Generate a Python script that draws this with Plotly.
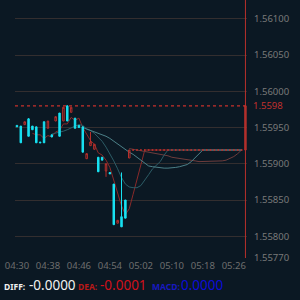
import pandas as pd
import plotly.graph_objects as go

# ---------------- data ----------------
start_time = "2024-01-01 04:30"
n_bars = 60

opens = [1.55953, 1.55952, 1.55954, 1.55962, 1.55952, 1.55951, 1.55930, 1.55958, 1.55949, 1.55940,
         1.55959, 1.55970, 1.55959, 1.55980, 1.55971, 1.55963, 1.55953, 1.55951, 1.55907, 1.55925,
         1.55920, 1.55909, 1.55909, 1.55890, 1.55888, 1.55872, 1.55818, 1.55827, 1.55850, 1.55908,
         1.55919, 1.55919, 1.55919, 1.55919, 1.55919, 1.55919, 1.55919, 1.55919, 1.55919, 1.55919,
         1.55919, 1.55919, 1.55919, 1.55919, 1.55919, 1.55919, 1.55919, 1.55919, 1.55919, 1.55919,
         1.55919, 1.55919, 1.55919, 1.55919, 1.55919, 1.55919, 1.55919, 1.55919, 1.55919, 1.55919]
closes = [1.55951, 1.55929, 1.55958, 1.55938, 1.55947, 1.55929, 1.55929, 1.55929, 1.55959, 1.55937,
          1.55965, 1.55938, 1.55978, 1.55959, 1.55978, 1.55949, 1.55950, 1.55916, 1.55914, 1.55930,
          1.55927, 1.55889, 1.55905, 1.55900, 1.55886, 1.55816, 1.55822, 1.55813, 1.55825, 1.55919,
          1.55919, 1.55919, 1.55919, 1.55919, 1.55919, 1.55919, 1.55919, 1.55919, 1.55919, 1.55919,
          1.55919, 1.55919, 1.55919, 1.55919, 1.55919, 1.55919, 1.55919, 1.55919, 1.55919, 1.55919,
          1.55919, 1.55919, 1.55919, 1.55919, 1.55919, 1.55919, 1.55919, 1.55919, 1.55919, 1.55980]
highs = [1.55953, 1.55952, 1.55958, 1.55963, 1.55952, 1.55951, 1.55930, 1.55958, 1.55959, 1.55940,
         1.55965, 1.55970, 1.55978, 1.55980, 1.55978, 1.55963, 1.55953, 1.55951, 1.55914, 1.55944,
         1.55927, 1.55909, 1.55909, 1.55900, 1.55888, 1.55872, 1.55822, 1.55888, 1.55850, 1.55919,
         1.55919, 1.55919, 1.55919, 1.55919, 1.55919, 1.55919, 1.55919, 1.55919, 1.55919, 1.55919,
         1.55919, 1.55919, 1.55919, 1.55919, 1.55919, 1.55919, 1.55919, 1.55919, 1.55919, 1.55919,
         1.55919, 1.55919, 1.55919, 1.55919, 1.55919, 1.55919, 1.55919, 1.55919, 1.55919, 1.55980]
lows = [1.55951, 1.55929, 1.55954, 1.55938, 1.55947, 1.55929, 1.55929, 1.55929, 1.55949, 1.55937,
        1.55959, 1.55938, 1.55959, 1.55959, 1.55971, 1.55949, 1.55950, 1.55916, 1.55907, 1.55925,
        1.55920, 1.55889, 1.55905, 1.55882, 1.55886, 1.55816, 1.55818, 1.55813, 1.55825, 1.55908,
        1.55919, 1.55919, 1.55919, 1.55919, 1.55919, 1.55919, 1.55919, 1.55919, 1.55919, 1.55919,
        1.55919, 1.55919, 1.55919, 1.55919, 1.55919, 1.55919, 1.55919, 1.55919, 1.55919, 1.55919,
        1.55919, 1.55919, 1.55919, 1.55919, 1.55919, 1.55919, 1.55919, 1.55919, 1.55919, 1.55919]

N = None
ma5 = [N, N, N, N, 1.55942, 1.55940, 1.55940, 1.55935, 1.55939, 1.55937,
       1.55944, 1.55946, 1.55955, 1.55955, 1.55964, 1.55960, 1.55963, 1.55950, 1.55941, 1.55932,
       1.55927, 1.55915, 1.55912, 1.55905, 1.55895, 1.55878, 1.55862, 1.55842, 1.55830, 1.55838,
       1.55858, 1.55878, 1.55899, 1.55919, 1.55919, 1.55919, 1.55919, 1.55919, 1.55919, 1.55919,
       1.55919, 1.55919, 1.55919, 1.55919, 1.55919, 1.55919, 1.55919, 1.55919, 1.55919, 1.55919,
       1.55919, 1.55919, 1.55919, 1.55919, 1.55919, 1.55919, 1.55919, 1.55919, 1.55919, N]
ma10 = [N, N, N, N, N, N, N, N, N, 1.55941,
        1.55942, 1.55943, 1.55945, 1.55947, 1.55950, 1.55952, 1.55954, 1.55953, 1.55948, 1.55946,
        1.55942, 1.55937, 1.55931, 1.55923, 1.55914, 1.55904, 1.55893, 1.55881, 1.55872, 1.55868,
        1.55867, 1.55867, 1.55870, 1.55877, 1.55885, 1.55893, 1.55898, 1.55903, 1.55912, 1.55919,
        1.55919, 1.55919, 1.55919, 1.55919, 1.55919, 1.55919, 1.55919, 1.55919, 1.55919, 1.55919,
        1.55919, 1.55919, 1.55919, 1.55919, 1.55919, 1.55919, 1.55919, 1.55919, 1.55919, N]
ma20 = [N, N, N, N, N, N, N, N, N, N,
        N, N, N, N, N, N, N, 1.55950, 1.55948, 1.55946,
        1.55944, 1.55943, 1.55941, 1.55938, 1.55935, 1.55931, 1.55928, 1.55924, 1.55919, 1.55916,
        1.55913, 1.55909, 1.55904, 1.55900, 1.55897, 1.55896, 1.55895, 1.55895, 1.55894, 1.55894,
        1.55894, 1.55895, 1.55896, 1.55897, 1.55899, 1.55903, 1.55908, 1.55913, 1.55919, 1.55919,
        1.55919, 1.55919, 1.55919, 1.55919, 1.55919, 1.55919, 1.55919, 1.55919, 1.55919, N]
ma30 = [N, N, N, N, N, N, N, N, N, N,
        N, N, N, N, N, N, N, N, N, N,
        N, N, N, N, N, N, N, N, N, 1.55921,
        1.55920, 1.55919, 1.55918, 1.55917, 1.55916, 1.55915, 1.55915, 1.55914, 1.55912, 1.55911,
        1.55909, 1.55908, 1.55907, 1.55906, 1.55905, 1.55904, 1.55904, 1.55903, 1.55903, 1.55903,
        1.55903, 1.55903, 1.55903, 1.55904, 1.55905, 1.55907, 1.55910, 1.55914, 1.55919, N]

last_price = 1.5598
last_price_label = "1.5598"
ytick_vals = [1.5577, 1.558, 1.5585, 1.559, 1.5595, 1.56, 1.5605, 1.561]
ytick_text = ["1.55770", "1.55800", "1.55850", "1.55900", "1.55950", "1.56000", "1.56050", "1.56100"]
y_range = [1.5577, 1.56126]

indicator_labels = ["DIFF:", "DEA:", "MACD:"]
indicator_values = ["-0.0000", "-0.0001", "0.0000"]

# ---------------- figure ----------------
times = pd.date_range(start_time, periods=n_bars, freq="min")

BG = "#0b1823"
RED = "#b8302c"
CYAN = "#18e2f2"
GRID = "#332e2f"
LBL = "#7a7a7a"

fig = go.Figure()

line_specs = [(ma5, "#8a2a2a"), (ma30, "#6e3c3c"), (ma10, "#2c5c66"), (ma20, "#4c8088")]
for vals, col in line_specs:
    fig.add_trace(go.Scatter(x=times, y=vals, mode="lines",
                             line=dict(color=col, width=1), hoverinfo="skip",
                             showlegend=False, connectgaps=False))

# candles on an overlaid copy of the axes so they are drawn above the MA lines
fig.add_trace(go.Candlestick(
    x=times, open=opens, high=highs, low=lows, close=closes,
    increasing=dict(line=dict(color=RED, width=1), fillcolor="rgba(0,0,0,0)"),
    decreasing=dict(line=dict(color=CYAN, width=1), fillcolor=CYAN),
    whiskerwidth=0, showlegend=False, xaxis="x2", yaxis="y2",
))

t_first = times[0]
t_last = times[-1]
x_range = [t_first - pd.Timedelta(seconds=30), t_last + pd.Timedelta(seconds=24)]

fig.update_layout(
    width=300, height=300,
    margin=dict(l=15, r=53, t=0, b=42),
    paper_bgcolor=BG, plot_bgcolor=BG,
    boxgap=0.45,
    font=dict(family="Noto Sans", size=9.5, color=LBL),
    xaxis=dict(
        type="date", range=x_range, rangeslider=dict(visible=False),
        tick0=t_first, dtick=8 * 60 * 1000, tickformat="%H:%M",
        showgrid=False, zeroline=False, showline=False, ticks="",
        tickfont=dict(size=9.5, color="#6e6e6e"),
    ),
    yaxis=dict(
        side="right", range=y_range, tickvals=ytick_vals, ticktext=ytick_text,
        showgrid=True, gridcolor=GRID, gridwidth=1, zeroline=False,
        showline=False, ticks="", ticklabelstandoff=6,
        tickfont=dict(size=9.5, color=LBL),
    ),
    xaxis2=dict(type="date", range=x_range, overlaying="x", visible=False,
                rangeslider=dict(visible=False), showgrid=False, zeroline=False),
    yaxis2=dict(range=y_range, overlaying="y", side="right", visible=False,
                showgrid=False, zeroline=False),
)

# last price dashed line and label
fig.add_shape(type="line", xref="paper", x0=0, x1=1, yref="y", y0=last_price, y1=last_price,
              line=dict(color="#c8302c", width=1.2, dash="3px,3px"), layer="above")
fig.add_shape(type="line", xref="x", x0=t_last, x1=t_last, yref="paper", y0=0, y1=1,
              line=dict(color=RED, width=1), layer="above")
fig.add_annotation(xref="paper", x=(251 - 15) / 232, yref="y", y=last_price,
                   text=last_price_label, showarrow=False, xanchor="left", yanchor="middle",
                   font=dict(size=9.5, color="#c0302e"))

# bottom indicator text
label_cols = ["#eeeeee", "#b81818", "#1818c0"]
value_cols = ["#f2f2f2", "#d0101a", "#0c0cd8"]
label_x = [2, 76, 150]
value_x = [27, 98, 179]
for lab, val, lc, vc, lx, vx in zip(indicator_labels, indicator_values, label_cols, value_cols, label_x, value_x):
    fig.add_annotation(xref="paper", x=(lx - 15) / 232, yref="paper", y=(258 - 286) / 258,
                       text="<b>" + lab + "</b>", showarrow=False, xanchor="left", yanchor="middle",
                       font=dict(size=8.5, color=lc))
    fig.add_annotation(xref="paper", x=(vx - 15) / 232, yref="paper", y=(258 - 285) / 258,
                       text=val, showarrow=False, xanchor="left", yanchor="middle",
                       font=dict(size=13.5, color=vc))

fig.write_html("out.html")
